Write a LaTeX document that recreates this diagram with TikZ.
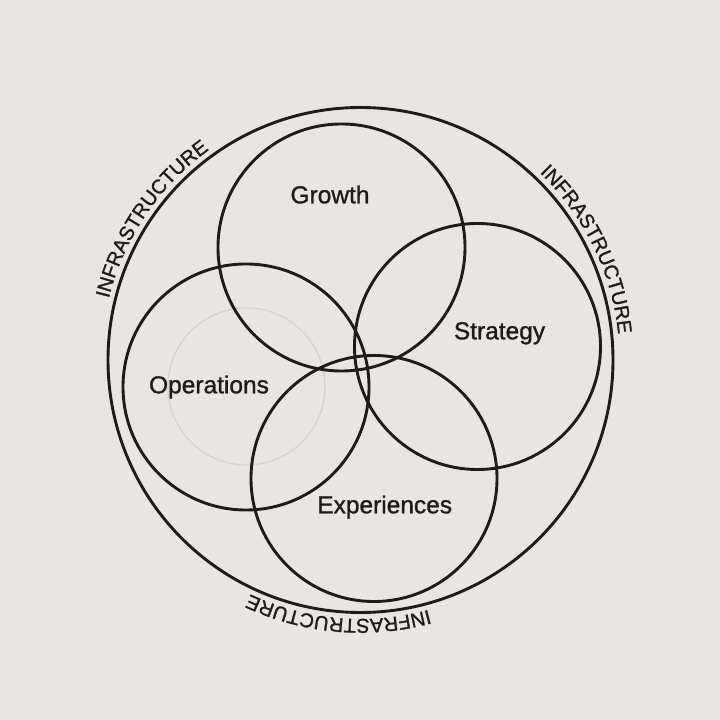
\documentclass[tikz,border=0pt]{standalone}
\usepackage{fontspec}
\setmainfont{Liberation Sans}
\newfontfamily\medfont{Liberation Sans}[FakeBold=1.1]
\usetikzlibrary{shapes,decorations.text}
\definecolor{paper}{HTML}{E9E5E2}
\definecolor{ink}{HTML}{1C1C1C}
\definecolor{faint}{HTML}{D7D3CF}

\begin{document}
\begin{tikzpicture}[x=1pt,y=1pt,
        ring/.style={shape=circle,draw=ink,line width=2.9pt,inner sep=0pt},
        tag/.style={anchor=base,text=ink,font=\medfont\fontsize{24.5}{26}\selectfont,inner sep=0pt},
        ringtext/.style={decorate,decoration={text along path,text align=center,
            text color=ink,text={|\medfont\fontsize{20}{22}\selectfont|INFRASTRUCTURE}}}]
                \fill[paper](0,0)rectangle(720,720);
                \useasboundingbox(0,0)rectangle(720,720);
                \node[ring,minimum size=505pt](Outer)at(360.5, 360){};
                \node[shape=circle,draw=faint,line width=1.3pt,minimum size=157pt](Focus)at(246.5, 333.5){};
                \node[ring,minimum size=247pt](Growth)at(341.5, 472.5){};
                \node[ring,minimum size=246pt](Strategy)at(477.5, 373.5){};
                \node[ring,minimum size=246pt](Operations)at(246, 333){};
                \node[ring,minimum size=246pt](Experiences)at(374, 241.5){};
                \node[tag](GrowthLabel)at(330, 516.7){Growth};
                \node[tag](StrategyLabel)at(499.5, 380.7){Strategy};
                \node[tag](OperationsLabel)at(209, 326.7){Operations};
                \node[tag](ExperiencesLabel)at(384.7, 206.7){Experiences};
                \path[ringtext](Outer.center) ++(176:259pt) arc[start angle=176,end angle=116,radius=259pt];
                \path[ringtext](Outer.center) ++(56:259pt) arc[start angle=56,end angle=-4,radius=259pt];
                \path[ringtext](Outer.center) ++(-65:259pt) arc[start angle=-65,end angle=-125,radius=259pt];
            \end{tikzpicture}
\end{document}
